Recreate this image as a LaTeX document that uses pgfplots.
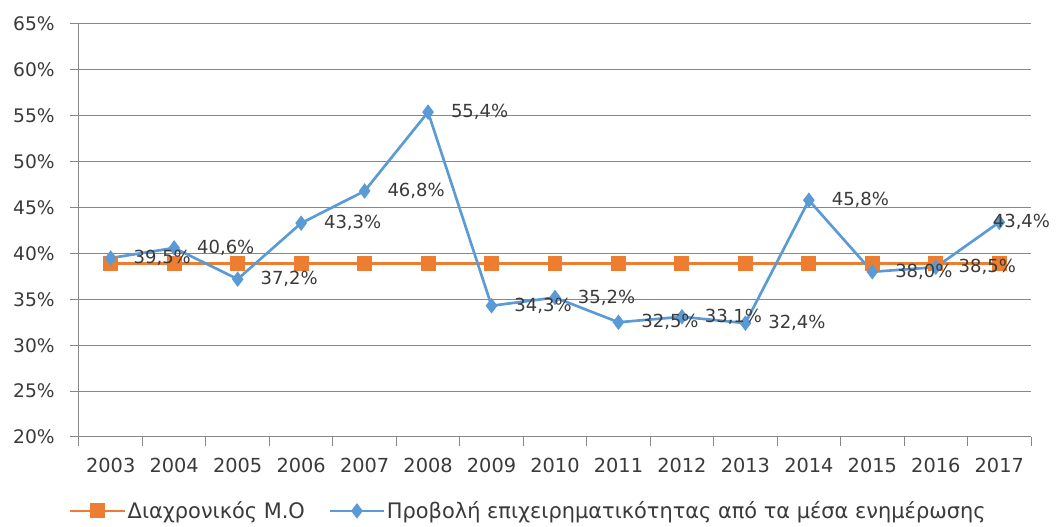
\documentclass[border=0pt]{standalone}
\usepackage{pgfplots}
\pgfplotsset{compat=1.18}
\usepackage{pgfplotstable}
\usepackage{fontspec}
\setmainfont{DejaVu Sans}
\newfontfamily\legfont{DejaVu Sans}[FakeStretch=0.98]
\definecolor{morange}{HTML}{ED7D31}
\definecolor{mblue}{HTML}{5B9BD5}
\definecolor{gridc}{HTML}{878787}
\definecolor{txt}{HTML}{3A3A3A}

\pgfplotstableread{
x y
0 39.5
1 40.6
2 37.2
3 43.3
4 46.8
5 55.4
6 34.3
7 35.2
8 32.5
9 33.1
10 32.4
11 45.8
12 38.0
13 38.5
14 43.4
}\bluedata
\pgfplotstableread{
x y
0 39.5
1 40.6
2 37.2
3 43.3
4 46.8
5 55.4
6 34.3
7 35.2
8 32.5
9 33.1
10 32.4
11 45.8
12 38.0
13 38.5
}\bluelabels
\pgfplotstableread{
x y
14 43.4
}\bluelast
\pgfplotstableread{
x y
0 38.9
1 38.9
2 38.9
3 38.9
4 38.9
5 38.9
6 38.9
7 38.9
8 38.9
9 38.9
10 38.9
11 38.9
12 38.9
13 38.9
14 38.9
}\avgdata

\begin{document}
\begin{tikzpicture}
\begin{axis}[
  at={(0,0)}, anchor=south west,
  width=714pt, height=309.75pt, scale only axis,
  xmin=-0.5, xmax=14.5, ymin=20, ymax=65,
  /pgf/number format/assume math mode=true,
  xtick={-0.5,0.5,...,14.5},
  xticklabels={},
  extra x ticks={0,1,2,3,4,5,6,7,8,9,10,11,12,13,14},
  extra x tick labels={2003,2004,2005,2006,2007,2008,2009,2010,2011,2012,2013,2014,2015,2016,2017},
  extra x tick style={major tick length=0pt, xmajorgrids=false},
  ytick={20,25,...,65},
  yticklabel={\pgfmathprintnumber{\tick}\%},
  ymajorgrids,
  major grid style={gridc, line width=0.75pt},
  axis x line*=bottom, axis y line*=left,
  axis line style={gridc, line width=0.75pt, -},
  tick align=outside,
  tick style={gridc, line width=0.75pt},
  major tick length=6.75pt,
  yticklabel style={font=\fontsize{14}{16}\selectfont, text=txt, anchor=east, inner sep=0pt, xshift=-11.25pt},
  xticklabel style={font=\fontsize{14.5}{17}\selectfont, text=txt, anchor=north, inner sep=0pt, yshift=-16pt},
  legend style={at={(0.4716,-0.179)}, anchor=center, draw=none, fill=none,
    legend columns=2, font=\legfont\fontsize{16}{19}\selectfont, text=txt,
    nodes={inner sep=1pt},
    /tikz/every even column/.append style={column sep=16.5pt}},
  legend cell align=left,
  legend image code/.code={\draw[mark repeat=2,mark phase=2,#1] plot coordinates {(0pt,0pt) (20.5pt,0pt) (41pt,0pt)};},
]
\addplot[morange, line width=2pt, mark=square*, mark size=4.6pt, mark options={solid}] table[x=x,y=y]{\avgdata};
\addlegendentry{Διαχρονικός Μ.Ο}
\addplot[mblue, line width=2pt, mark=diamond*, mark size=4.2pt] table[x=x,y=y]{\bluedata};
\addlegendentry{Προβολή επιχειρηματικότητας από τα μέσα ενημέρωσης}
\addplot[draw=none, forget plot, nodes near coords={\pgfmathprintnumber[fixed,fixed zerofill,precision=1,use comma]{\pgfplotspointmeta}\%},
  every node near coord/.append style={anchor=west, inner sep=0pt, xshift=17pt, font=\fontsize{13.5}{16}\selectfont, text=txt}] table[x=x,y=y]{\bluelabels};
\addplot[draw=none, forget plot, nodes near coords={\pgfmathprintnumber[fixed,fixed zerofill,precision=1,use comma]{\pgfplotspointmeta}\%},
  every node near coord/.append style={anchor=west, inner sep=0pt, xshift=-5pt, font=\fontsize{13.5}{16}\selectfont, text=txt}] table[x=x,y=y]{\bluelast};
\end{axis}
\pgfresetboundingbox
\useasboundingbox (-59.25pt,-67.5pt) rectangle (732.75pt,327.75pt);
\end{tikzpicture}
\end{document}
